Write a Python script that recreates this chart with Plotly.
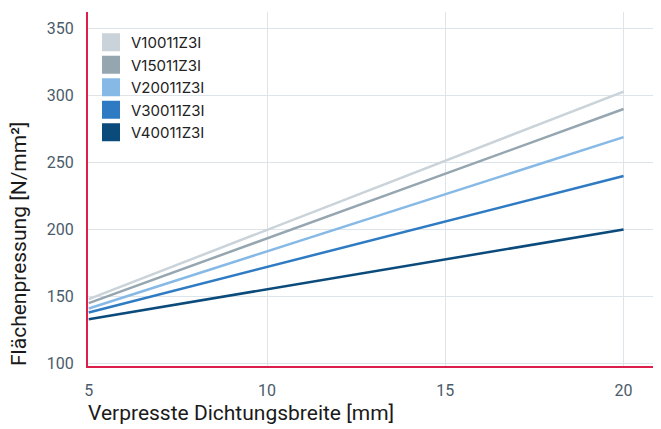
import plotly.graph_objects as go

widths = [5, 20]
series_names = ["V10011Z3I", "V15011Z3I", "V20011Z3I", "V30011Z3I", "V40011Z3I"]
v100 = [148, 303]
v150 = [145, 290]
v200 = [141, 269]
v300 = [138, 240]
v400 = [133, 200]
series_values = [v100, v150, v200, v300, v400]
colors = ["#c9d3d9", "#96a6b1", "#86b9e6", "#2e7bc3", "#0b4b7c"]

x_ticks = [5, 10, 15, 20]
y_ticks = [100, 150, 200, 250, 300, 350]

FONT = "Roboto, Inter, sans-serif"

fig = go.Figure()
for name, vals, col in zip(series_names, series_values, colors):
    fig.add_trace(go.Scatter(x=widths, y=vals, mode="lines", name=name,
                             line=dict(color=col, width=2.5), showlegend=False,
                             hoverinfo="skip"))
for name, col in zip(series_names, colors):
    fig.add_trace(go.Scatter(x=[None], y=[None], mode="markers", name=name,
                             marker=dict(symbol="square", size=16, color=col,
                                         line=dict(color=col, width=2)),
                             showlegend=True))

# page body has an 8px default margin: figure is sized so it fits the 661x429 window
fig.update_layout(
    width=653, height=421,
    margin=dict(l=80, r=0, t=4, b=63, autoexpand=False),
    paper_bgcolor="white", plot_bgcolor="white",
    font=dict(family=FONT, size=16, color="#4a5b6a"),
    showlegend=True,
    legend=dict(x=3 / 573, xanchor="left", y=1 - 14 / 354, yanchor="top",
                bgcolor="rgba(0,0,0,0)", borderwidth=0,
                font=dict(family="Inter, Roboto, sans-serif", size=15, color="#222222"),
                itemsizing="trace", tracegroupgap=0),
    xaxis=dict(range=[4.98, 21.05], tickvals=x_ticks, ticktext=[str(v) for v in x_ticks],
               showgrid=True, gridcolor="#dde4ea", gridwidth=1,
               showline=True, linecolor="#dc1e4a", linewidth=2,
               zeroline=False, ticks="", ticklabelstandoff=9, automargin=False,
               tickfont=dict(family=FONT, size=16, color="#4a5b6a")),
    yaxis=dict(range=[98, 362.5], tickvals=y_ticks, ticktext=[str(v) for v in y_ticks],
               showgrid=True, gridcolor="#dde4ea", gridwidth=1,
               showline=True, linecolor="#dc1e4a", linewidth=2,
               zeroline=False, ticks="", ticklabelstandoff=9, automargin=False,
               tickfont=dict(family=FONT, size=16, color="#4a5b6a")),
    annotations=[
        dict(text="Verpresste Dichtungsbreite [mm]", xref="paper", yref="paper",
             x=0, y=0, xanchor="left", yanchor="top", yshift=-33, xshift=-2,
             showarrow=False, font=dict(family=FONT, size=21, color="#1a1a1a")),
        dict(text="Flächenpressung [N/mm²]", xref="paper", yref="paper",
             x=0, y=0, xanchor="center", yanchor="bottom", xshift=-69, yshift=-2,
             textangle=-90, showarrow=False,
             font=dict(family=FONT, size=21, color="#1a1a1a")),
    ],
)

fig.write_html("out.html")
